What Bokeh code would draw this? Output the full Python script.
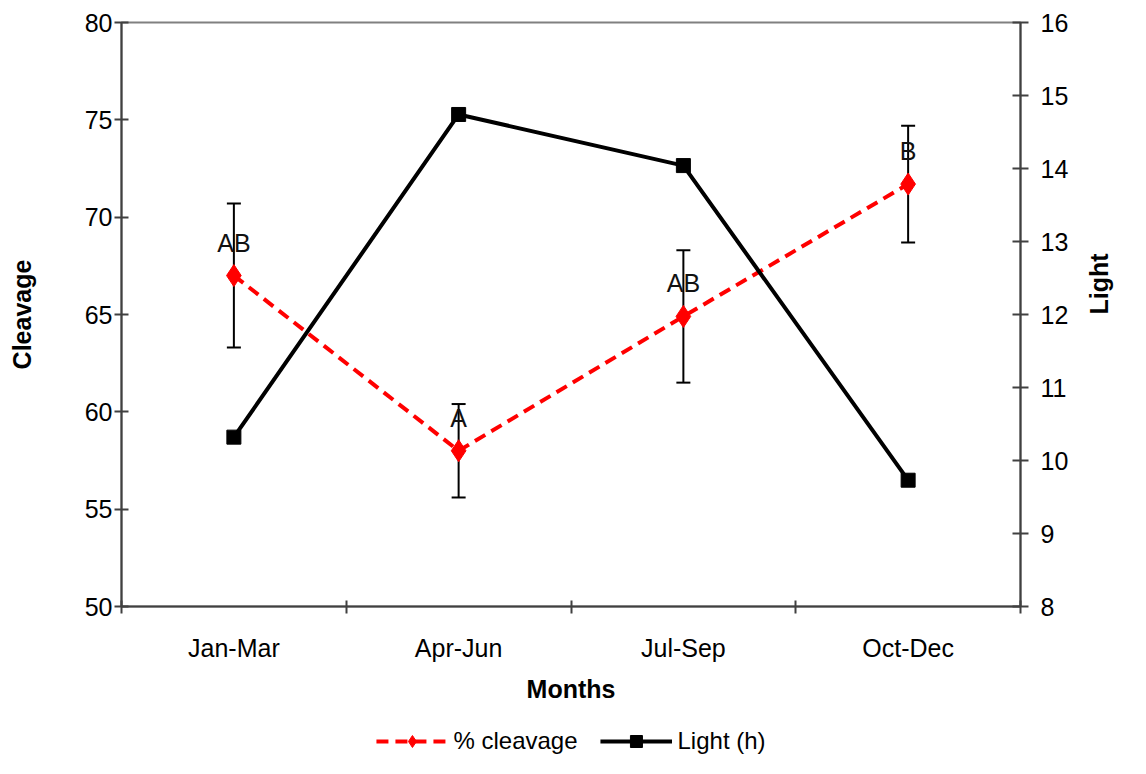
import math
from bokeh.plotting import figure
from bokeh.layouts import column
from bokeh.models import (Range1d, LinearAxis, FixedTicker, Whisker, ColumnDataSource,
                          Legend, LegendItem, TeeHead)
from bokeh.embed import file_html
from bokeh.resources import INLINE
from bokeh.core.properties import value

# ---- data ----
categories = ["Jan-Mar", "Apr-Jun", "Jul-Sep", "Oct-Dec"]
cleavage = [67.0, 58.0, 64.9, 71.7]
cleavage_err = [3.7, 2.4, 3.4, 3.0]
light = [10.32, 14.74, 14.04, 9.73]
letters = ["AB", "A", "AB", "B"]
left_ticks = [50, 55, 60, 65, 70, 75, 80]
right_ticks = [8, 9, 10, 11, 12, 13, 14, 15, 16]
series_names = ["% cleavage", "Light (h)"]

FONT = "Liberation Sans"
W = 1130
H_MAIN = 714
H_LEG = 44

xpos = [i + 0.5 for i in range(len(categories))]
bounds = [i for i in range(len(categories) + 1)]

src = ColumnDataSource(dict(
    x=xpos, cleavage=cleavage, light=light, letters=letters,
    upper=[c + e for c, e in zip(cleavage, cleavage_err)],
    lower=[c - e for c, e in zip(cleavage, cleavage_err)],
))

p = figure(width=W, height=H_MAIN, output_backend="svg", toolbar_location=None,
           x_range=Range1d(0, len(categories)), y_range=Range1d(left_ticks[0], left_ticks[-1]),
           x_axis_type=None, y_axis_type=None,
           min_border_left=121, min_border_right=109, min_border_top=22,
           min_border_bottom=H_MAIN - 606)
p.grid.visible = False
p.outline_line_color = "#808080"
p.outline_line_width = 2
p.background_fill_color = "white"
p.border_fill_color = "white"

p.extra_y_ranges = {"light": Range1d(right_ticks[0], right_ticks[-1])}

AX = "#404040"

# x axis
xaxis = LinearAxis(ticker=FixedTicker(ticks=xpos, minor_ticks=bounds),
                   major_label_overrides={x: c for x, c in zip(xpos, categories)})
xaxis.axis_label = "Months"
xaxis.major_tick_in = 0
xaxis.major_tick_out = 0
xaxis.minor_tick_in = 6
xaxis.minor_tick_out = 7
xaxis.minor_tick_line_color = AX
xaxis.minor_tick_line_width = 2
xaxis.axis_line_color = AX
xaxis.axis_line_width = 2
xaxis.major_label_standoff = 20
xaxis.major_label_text_font = FONT
xaxis.major_label_text_font_size = "25px"
xaxis.major_label_text_color = "black"
xaxis.axis_label_text_font = FONT
xaxis.axis_label_text_font_style = "bold"
xaxis.axis_label_text_font_size = "25px"
xaxis.axis_label_text_color = "black"
xaxis.axis_label_standoff = 10
p.add_layout(xaxis, "below")

# left axis
yaxis = LinearAxis(ticker=FixedTicker(ticks=left_ticks, minor_ticks=[]))
yaxis.axis_label = "Cleavage"
yaxis.major_tick_in = 7
yaxis.major_tick_out = 7
yaxis.major_tick_line_color = AX
yaxis.major_tick_line_width = 2
yaxis.axis_line_color = AX
yaxis.axis_line_width = 2
yaxis.major_label_standoff = 2
yaxis.major_label_text_font = FONT
yaxis.major_label_text_font_size = "25px"
yaxis.major_label_text_color = "black"
yaxis.axis_label_text_font = FONT
yaxis.axis_label_text_font_style = "bold"
yaxis.axis_label_text_font_size = "25px"
yaxis.axis_label_text_color = "black"
yaxis.axis_label_standoff = 46
p.add_layout(yaxis, "left")

# right axis
raxis = LinearAxis(y_range_name="light", ticker=FixedTicker(ticks=right_ticks, minor_ticks=[]))
raxis.axis_label = "Light"
raxis.major_tick_in = 8
raxis.major_tick_out = 8
raxis.major_tick_line_color = AX
raxis.major_tick_line_width = 2
raxis.axis_line_color = AX
raxis.axis_line_width = 2
raxis.major_label_standoff = 12
raxis.major_label_text_font = FONT
raxis.major_label_text_font_size = "25px"
raxis.major_label_text_color = "black"
raxis.axis_label_text_font = FONT
raxis.axis_label_text_font_style = "bold"
raxis.axis_label_text_font_size = "25px"
raxis.axis_label_text_color = "black"
raxis.axis_label_standoff = 28
try:
    raxis.axis_label_orientation = math.pi / 2
except Exception:
    pass
p.add_layout(raxis, "right")

# series
r_line = p.line("x", "cleavage", source=src, line_color="red", line_width=4, line_dash="12 7")
r_pts = p.scatter("x", "cleavage", source=src, marker="diamond", size=22,
                  fill_color="red", line_color="red")
l_line = p.line("x", "light", source=src, y_range_name="light", line_color="black", line_width=4)
l_pts = p.scatter("x", "light", source=src, y_range_name="light", marker="square", size=14,
                  fill_color="black", line_color="black")

whisk = Whisker(source=src, base="x", upper="upper", lower="lower",
                line_color="black", line_width=2,
                upper_head=TeeHead(size=14, line_width=2, line_color="black"),
                lower_head=TeeHead(size=14, line_width=2, line_color="black"))
p.add_layout(whisk)

p.text("x", "cleavage", text="letters", source=src, y_offset=-33,
       text_align="center", text_baseline="middle",
       text_font=value(FONT), text_font_size="25px", text_color="#111111")

# legend strip below the chart; its renderers use the same data, but lie outside
# this strip's ranges, so only their legend swatches are seen
q = figure(width=W, height=H_LEG, output_backend="svg", toolbar_location=None,
           x_range=Range1d(0, 1), y_range=Range1d(0, 1), x_axis_type=None, y_axis_type=None,
           min_border=0)
q.grid.visible = False
q.outline_line_color = None
q.background_fill_color = "white"
q.border_fill_color = "white"
lr1 = q.line("x", "cleavage", source=src, line_color="red", line_width=4, line_dash="12 7")
lr2 = q.scatter("x", "cleavage", source=src, marker="diamond", size=18,
                fill_color="red", line_color="red")
lb1 = q.line("x", "light", source=src, line_color="black", line_width=4)
lb2 = q.scatter("x", "light", source=src, marker="square", size=14,
                fill_color="black", line_color="black")
legend = Legend(items=[LegendItem(label=series_names[0], renderers=[lr1, lr2]),
                       LegendItem(label=series_names[1], renderers=[lb1, lb2])],
                orientation="horizontal", location="bottom_center",
                border_line_alpha=0, background_fill_alpha=0,
                label_text_font=FONT, label_text_font_size="24px", label_text_color="black",
                glyph_width=72, glyph_height=30, spacing=22, label_standoff=6,
                padding=0, margin=2)
q.add_layout(legend, "center")

layout = column(p, q, spacing=0)
open("out.html", "w").write(file_html(layout, INLINE))
